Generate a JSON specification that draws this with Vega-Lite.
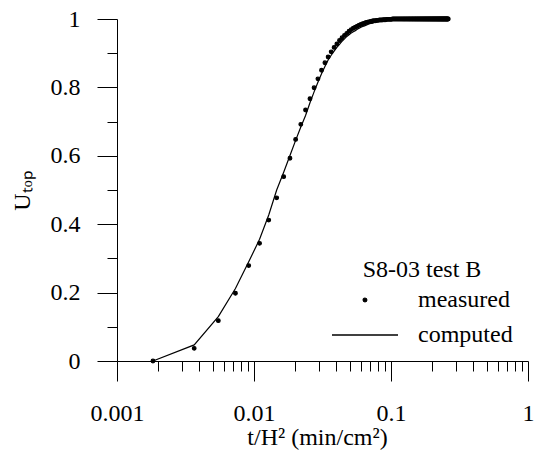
{
  "$schema": "https://vega.github.io/schema/vega-lite/v6.json",
  "width": 411,
  "height": 342,
  "autosize": {"type": "none"},
  "padding": {"left": 117, "top": 19, "right": 6, "bottom": 89},
  "config": {
    "view": {"stroke": null},
    "font": "Liberation Serif, Times New Roman, serif",
    "axis": {
      "domainColor": "black", "domainWidth": 1, "tickColor": "black", "tickWidth": 1,
      "labelColor": "black", "titleColor": "black", "labelFont": "Liberation Serif, Times New Roman, serif",
      "titleFont": "Liberation Serif, Times New Roman, serif", "labelFontSize": 24, "titleFontSize": 24,
      "titleFontWeight": "normal", "grid": false, "labelOverlap": false, "labelFlush": false
    }
  },
  "data": {"values": [
    {"t":0.00183,"m":0,"c":0},{"t":0.00366,"m":0.037,"c":0.047},{"t":0.00549,"m":0.118,"c":0.130},
    {"t":0.00732,"m":0.198,"c":0.212},{"t":0.00915,"m":0.279,"c":0.290},{"t":0.01098,"m":0.344,"c":0.356},
    {"t":0.01281,"m":0.412,"c":0.427},{"t":0.01464,"m":0.477,"c":0.500},{"t":0.01647,"m":0.539,"c":0.552},
    {"t":0.0183,"m":0.593,"c":0.601},{"t":0.02013,"m":0.648,"c":0.645},{"t":0.02196,"m":0.692,"c":0.684},
    {"t":0.02379,"m":0.734,"c":0.718},{"t":0.02562,"m":0.767,"c":0.755},{"t":0.02745,"m":0.799,"c":0.787},
    {"t":0.02928,"m":0.825,"c":0.815},{"t":0.03111,"m":0.850,"c":0.840},{"t":0.03294,"m":0.872,"c":0.861},
    {"t":0.03477,"m":0.889,"c":0.880},{"t":0.0366,"m":0.904,"c":0.894},{"t":0.03843,"m":0.917,"c":0.906},
    {"t":0.04026,"m":0.927,"c":0.917},{"t":0.04209,"m":0.937,"c":0.926},{"t":0.04392,"m":0.945,"c":0.935},
    {"t":0.04575,"m":0.952,"c":0.942},{"t":0.04758,"m":0.958,"c":0.949},{"t":0.04941,"m":0.964,"c":0.954},
    {"t":0.05124,"m":0.969,"c":0.959},{"t":0.05307,"m":0.973,"c":0.963},{"t":0.0549,"m":0.976,"c":0.966},
    {"t":0.05673,"m":0.979,"c":0.970},{"t":0.05856,"m":0.982,"c":0.973},{"t":0.06039,"m":0.984,"c":0.976},
    {"t":0.06222,"m":0.986,"c":0.978},{"t":0.06405,"m":0.988,"c":0.980},{"t":0.06588,"m":0.990,"c":0.982},
    {"t":0.06771,"m":0.991,"c":0.984},{"t":0.06954,"m":0.992,"c":0.986},{"t":0.07137,"m":0.993,"c":0.987},
    {"t":0.0732,"m":0.994,"c":0.988},{"t":0.07503,"m":0.995,"c":0.989},{"t":0.07686,"m":0.995,"c":0.991},
    {"t":0.07869,"m":0.996,"c":0.991},{"t":0.08052,"m":0.996,"c":0.992},{"t":0.08235,"m":0.997,"c":0.993},
    {"t":0.08418,"m":0.997,"c":0.994},{"t":0.08601,"m":0.997,"c":0.994},{"t":0.08784,"m":0.998,"c":0.995},
    {"t":0.08967,"m":0.998,"c":0.995},{"t":0.0915,"m":0.998,"c":0.996},{"t":0.09333,"m":0.999,"c":0.996},
    {"t":0.09516,"m":0.999,"c":0.997},{"t":0.09699,"m":0.999,"c":0.997},{"t":0.09882,"m":0.999,"c":0.997},
    {"t":0.10065,"m":0.999,"c":0.998},{"t":0.10248,"m":1,"c":0.998},{"t":0.10431,"m":1,"c":0.998},
    {"t":0.10614,"m":1,"c":0.998},{"t":0.10797,"m":1,"c":0.999},{"t":0.1098,"m":1,"c":0.999},
    {"t":0.11163,"m":1,"c":0.999},{"t":0.11346,"m":1,"c":0.999},{"t":0.11529,"m":1,"c":0.999},
    {"t":0.11712,"m":1,"c":0.999},{"t":0.11895,"m":1,"c":0.999},{"t":0.12078,"m":1,"c":1},
    {"t":0.12261,"m":1,"c":1},{"t":0.12444,"m":1,"c":1},{"t":0.12627,"m":1,"c":1},
    {"t":0.1281,"m":1,"c":1},{"t":0.12993,"m":1,"c":1},{"t":0.13176,"m":1,"c":1},
    {"t":0.13359,"m":1,"c":1},{"t":0.13542,"m":1,"c":1},{"t":0.13725,"m":1,"c":1},
    {"t":0.13908,"m":1,"c":1},{"t":0.14091,"m":1,"c":1},{"t":0.14274,"m":1,"c":1},
    {"t":0.14457,"m":1,"c":1},{"t":0.1464,"m":1,"c":1},{"t":0.14823,"m":1,"c":1},
    {"t":0.15006,"m":1,"c":1},{"t":0.15189,"m":1,"c":1},{"t":0.15372,"m":1,"c":1},
    {"t":0.15555,"m":1,"c":1},{"t":0.15738,"m":1,"c":1},{"t":0.15921,"m":1,"c":1},
    {"t":0.16104,"m":1,"c":1},{"t":0.16287,"m":1,"c":1},{"t":0.1647,"m":1,"c":1},
    {"t":0.16653,"m":1,"c":1},{"t":0.16836,"m":1,"c":1},{"t":0.17019,"m":1,"c":1},
    {"t":0.17202,"m":1,"c":1},{"t":0.17385,"m":1,"c":1},{"t":0.17568,"m":1,"c":1},
    {"t":0.17751,"m":1,"c":1},{"t":0.17934,"m":1,"c":1},{"t":0.18117,"m":1,"c":1},
    {"t":0.183,"m":1,"c":1},{"t":0.18483,"m":1,"c":1},{"t":0.18666,"m":1,"c":1},
    {"t":0.18849,"m":1,"c":1},{"t":0.19032,"m":1,"c":1},{"t":0.19215,"m":1,"c":1},
    {"t":0.19398,"m":1,"c":1},{"t":0.19581,"m":1,"c":1},{"t":0.19764,"m":1,"c":1},
    {"t":0.19947,"m":1,"c":1},{"t":0.2013,"m":1,"c":1},{"t":0.20313,"m":1,"c":1},
    {"t":0.20496,"m":1,"c":1},{"t":0.20679,"m":1,"c":1},{"t":0.20862,"m":1,"c":1},
    {"t":0.21045,"m":1,"c":1},{"t":0.21228,"m":1,"c":1},{"t":0.21411,"m":1,"c":1},
    {"t":0.21594,"m":1,"c":1},{"t":0.21777,"m":1,"c":1},{"t":0.2196,"m":1,"c":1},
    {"t":0.22143,"m":1,"c":1},{"t":0.22326,"m":1,"c":1},{"t":0.22509,"m":1,"c":1},
    {"t":0.22692,"m":1,"c":1},{"t":0.22875,"m":1,"c":1},{"t":0.23058,"m":1,"c":1},
    {"t":0.23241,"m":1,"c":1},{"t":0.23424,"m":1,"c":1},{"t":0.23607,"m":1,"c":1},
    {"t":0.2379,"m":1,"c":1},{"t":0.23973,"m":1,"c":1},{"t":0.24156,"m":1,"c":1},
    {"t":0.24339,"m":1,"c":1},{"t":0.24522,"m":1,"c":1},{"t":0.24705,"m":1,"c":1},
    {"t":0.24888,"m":1,"c":1},{"t":0.25071,"m":1,"c":1},{"t":0.25254,"m":1,"c":1},
    {"t":0.25437,"m":1,"c":1},{"t":0.2562,"m":1,"c":1},{"t":0.25803,"m":1,"c":1},
    {"t":0.25986,"m":1,"c":1},{"t":0.26169,"m":1,"c":1}
  ]},
  "encoding": {
    "x": {
      "field": "t", "type": "quantitative",
      "scale": {"type": "log", "domain": [0.001, 1]},
      "axis": {
        "title": "t/H² (min/cm²)",
        "titleX": 200, "titleY": 83, "titleBaseline": "alphabetic", "titleAnchor": "middle", "titleAlign": "center",
        "values": [0.001,0.002,0.003,0.004,0.005,0.006,0.007,0.008,0.009,0.01,0.02,0.03,0.04,0.05,0.06,0.07,0.08,0.09,0.1,0.2,0.3,0.4,0.5,0.6,0.7,0.8,0.9,1],
        "format": "~g",
        "labelExpr": "abs(log(datum.value)/LN10 - round(log(datum.value)/LN10)) < 0.001 ? datum.label : ''",
        "tickSize": {"condition": {"test": "abs(log(datum.value)/LN10 - round(log(datum.value)/LN10)) < 0.001", "value": 20}, "value": 10},
        "labelBaseline": "alphabetic",
        "labelPadding": 39
      }
    }
  },
  "layer": [
    {
      "mark": {"type": "line", "color": "black", "strokeWidth": 1.2},
      "encoding": {
        "y": {
          "field": "c", "type": "quantitative", "scale": {"domain": [0, 1]},
          "axis": {
            "title": "Uₜₒₚ",
            "values": [0,0.1,0.2,0.3,0.4,0.5,0.6,0.7,0.8,0.9,1],
            "format": "~g",
            "labelExpr": "abs(datum.value*5 - round(datum.value*5)) < 0.001 ? datum.label : ''",
            "tickSize": {"condition": {"test": "abs(datum.value*5 - round(datum.value*5)) < 0.001", "value": 20}, "value": 10},
            "labelPadding": 17,
            "titleX": -88, "titleY": 171, "titleAngle": 270, "titleBaseline": "alphabetic", "titleAlign": "center"
          }
        }
      }
    },
    {
      "mark": {"type": "point", "filled": false, "size": 4356, "color": "black", "fill": "black", "fillOpacity": 1, "stroke": "black", "strokeWidth": 1.2, "opacity": 1},
      "encoding": {
        "y": {
          "field": "m", "type": "quantitative", "scale": {"domain": [0, 1]},
          "axis": {
            "title": "Uₜₒₚ",
            "values": [0,0.1,0.2,0.3,0.4,0.5,0.6,0.7,0.8,0.9,1],
            "format": "~g",
            "labelExpr": "abs(datum.value*5 - round(datum.value*5)) < 0.001 ? datum.label : ''",
            "tickSize": {"condition": {"test": "abs(datum.value*5 - round(datum.value*5)) < 0.001", "value": 20}, "value": 10},
            "labelPadding": 17,
            "titleX": -88, "titleY": 171, "titleAngle": 270, "titleBaseline": "alphabetic", "titleAlign": "center"
          }
        },
        "shape": {
          "datum": "measured",
          "scale": {"domain": ["measured", "computed"], "range": ["M-0.056,0A0.056,0.056,0,1,1,0.056,0A0.056,0.056,0,1,1,-0.056,0Z", "M-1,0H1"]},
          "legend": {
            "title": "S8-03 test B",
            "orient": "none", "legendX": 214, "legendY": 239,
            "titleAnchor": "middle", "titleFontSize": 24, "titleFont": "Liberation Serif, Times New Roman, serif", "titleFontWeight": "normal", "titleColor": "black",
            "titlePadding": 3,
            "labelFontSize": 24, "labelFont": "Liberation Serif, Times New Roman, serif", "labelColor": "black", "labelOffset": 19,
            "symbolSize": 4356, "symbolStrokeWidth": 1.3,
            "clipHeight": 30, "rowPadding": 5, "padding": 0
          }
        }
      }
    }
  ]
}
